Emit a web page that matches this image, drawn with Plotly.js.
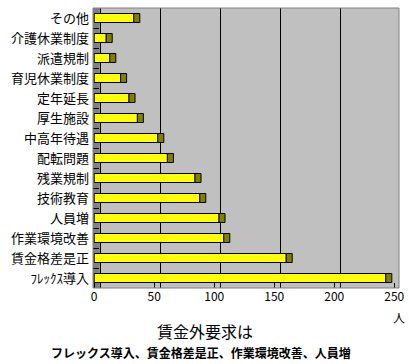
<!DOCTYPE html>
<html><head><meta charset="utf-8">
<script src="https://cdn.plot.ly/plotly-3.0.1.min.js"></script>
<style>html,body{margin:0;padding:0;background:#fff;}</style>
</head><body>
<div id="chart" style="width:409px;height:364px;"></div>
<script>
var categories = ["その他","介護休業制度","派遣規制","育児休業制度","定年延長","厚生施設","中高年待遇","配転問題","残業規制","技術教育","人員増","作業環境改善","賃金格差是正","ﾌﾚｯｸｽ導入"];
var values = [33,10,13,22,29,36,53,61,84,88,104,108,160,243];
var tickVals = [0,50,100,150,200,250];
var tickText = ["0","50","100","150","200","250"];
var unitLabel = "人";
var titleText = "賃金外要求は";
var subtitleText = "フレックス導入、賃金格差是正、作業環境改善、人員増";

var depth = 5; // 3D side-face depth (style)
var depthArr = values.map(function(){return depth;});
var font = "'Noto Sans CJK JP', 'Noto Sans', sans-serif";

var front = {
  type:'bar', orientation:'h', y:categories, x:values,
  marker:{color:'#FFFF00', line:{color:'#000', width:1}},
  width:0.45, hoverinfo:'x+y'
};
var side = {
  type:'bar', orientation:'h', y:categories, x:depthArr, base:values,
  marker:{color:'#808000', line:{color:'#000', width:1}},
  width:0.45, hoverinfo:'skip'
};
var gridHelper = {
  type:'scatter', x:[], y:[], xaxis:'x2', yaxis:'y', showlegend:false
};

var layout = {
  width:409, height:364,
  margin:{l:93, r:10, t:8, b:76},
  paper_bgcolor:'#fff', plot_bgcolor:'#C0C0C0',
  showlegend:false, barmode:'overlay',
  xaxis:{range:[-1,254], tickvals:tickVals, ticktext:tickText, showgrid:false, zeroline:false,
         ticks:'inside', ticklen:5, tickcolor:'#000', showline:false,
         tickfont:{family:font, size:12, color:'#000'}},
  xaxis2:{overlaying:'x', side:'top', range:[-6,249], tickvals:tickVals, showgrid:true, gridcolor:'#000', gridwidth:1,
          zeroline:false, showticklabels:false, ticks:'', showline:false},
  yaxis:{type:'category', categoryarray:categories, autorange:'reversed', range:[13.5,-0.5],
         ticks:'inside', tickson:'boundaries', ticklen:6, tickcolor:'#000', showgrid:false, showline:false,
         tickfont:{family:font, size:13, color:'#000'}, ticksuffix:' '},
  shapes:[
    {type:'rect', xref:'paper', yref:'paper', x0:0, x1:0.022, y0:0, y1:1, fillcolor:'#808080', line:{width:0}, layer:'between'},
    {type:'rect', xref:'paper', yref:'paper', x0:0, x1:1, y0:0, y1:1, fillcolor:'rgba(0,0,0,0)', line:{color:'#808080', width:1}, layer:'above'}
  ],
  annotations:[
    {text:unitLabel, xref:'paper', yref:'paper', x:1.0, y:-0.107, showarrow:false, xanchor:'center', yanchor:'middle',
     font:{family:font, size:12, color:'#000'}},
    {text:titleText, xref:'paper', yref:'paper', x:0.365, y:-0.152, showarrow:false, xanchor:'center', yanchor:'middle',
     font:{family:font, size:16, color:'#000'}},
    {text:'<b>'+subtitleText+'</b>', xref:'paper', yref:'paper', x:0.352, y:-0.232, showarrow:false, xanchor:'center', yanchor:'middle',
     font:{family:font, size:12, color:'#000'}}
  ]
};
Plotly.newPlot('chart', [gridHelper, front, side], layout, {displayModeBar:false, staticPlot:true});
</script>
</body></html>
